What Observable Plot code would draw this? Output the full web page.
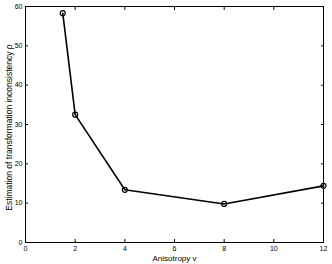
<!DOCTYPE html>
<html><head><meta charset="utf-8">
<script src="https://cdn.jsdelivr.net/npm/d3@7"></script>
<script src="https://cdn.jsdelivr.net/npm/@observablehq/plot@0.6"></script>
<style>body{margin:0;background:#fff;} svg{display:block;}</style>
</head><body><div id="c"></div>
<script>
const anisotropy = [1.5, 2, 4, 8, 12];
const inconsistency = [58.3, 32.5, 13.4, 9.8, 14.4];
const xTicks = [0, 2, 4, 6, 8, 10, 12];
const yTicks = [0, 10, 20, 30, 40, 50, 60];
const data = anisotropy.map((v, i) => ({v, rho: inconsistency[i]}));
const font = "Liberation Sans, Helvetica, Arial, sans-serif";
const chart = Plot.plot({
  width: 332, height: 264,
  marginLeft: 25, marginRight: 9, marginTop: 6, marginBottom: 22,
  style: {fontFamily: font, fontSize: "7px", background: "#fff", color: "#000"},
  x: {domain: [0, 12]},
  y: {domain: [0, 60]},
  marks: [
    Plot.frame({stroke: "#000", strokeWidth: 1}),
    Plot.axisX(xTicks, {anchor: "bottom", tickSize: -3, tickPadding: 7, label: null, stroke: "#000"}),
    Plot.axisX(xTicks, {anchor: "top", tickSize: -3, text: null, label: null, stroke: "#000"}),
    Plot.axisY(yTicks, {anchor: "left", tickSize: -3, tickPadding: 6, label: null, stroke: "#000"}),
    Plot.axisY(yTicks, {anchor: "right", tickSize: -3, text: null, label: null, stroke: "#000"}),
    Plot.line(data, {x: "v", y: "rho", stroke: "#000", strokeWidth: 1.6}),
    Plot.dot(data, {x: "v", y: "rho", r: 2.5, stroke: "#000", strokeWidth: 1.2, fill: "none"}),
    Plot.text(["Anisotropy v"], {frameAnchor: "bottom", dy: 18, fontSize: 8, fill: "#000"}),
    Plot.text(["Estimation of transformation inconsistency ρ"], {frameAnchor: "left", dx: -16, dy: 3, rotate: -90, textAnchor: "middle", fontSize: 8.5, fill: "#000"})
  ]
});
document.getElementById("c").appendChild(chart);
</script></body></html>
